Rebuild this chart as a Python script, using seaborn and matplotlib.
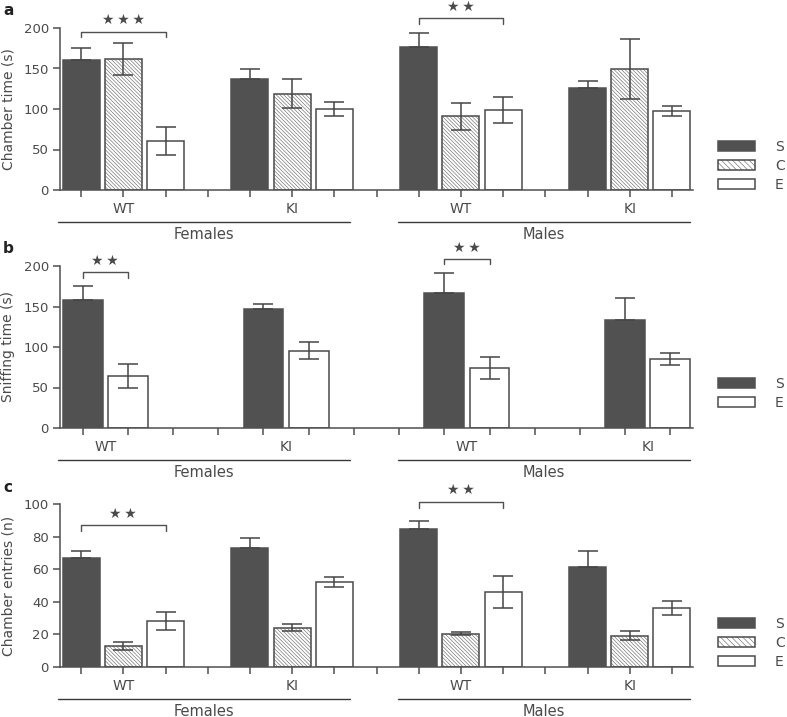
import numpy as np
import pandas as pd
import matplotlib
matplotlib.use("Agg")
import matplotlib.pyplot as plt
import matplotlib.colors as mcolors
import matplotlib.transforms as mtrans
from matplotlib.patches import Patch
import seaborn as sns

# ---------------- data ----------------
genotypes = ["WT", "KI", "WT", "KI"]
sexes = ["Females", "Males"]

# panel a: chamber time (s)
a_S = [161, 137.6, 176.6, 125.7]
a_S_err = [14.5, 12, 17.7, 8.6]
a_C = [162, 119, 90.8, 149]
a_C_err = [20, 18, 17, 37]
a_E = [60.8, 100, 99, 97.3]
a_E_err = [17, 8.5, 16, 6]

# panel b: sniffing time (s)
b_S = [157.8, 146.3, 167, 133]
b_S_err = [18, 7.4, 24, 27]
b_E = [64.3, 95.5, 73.8, 84.8]
b_E_err = [15, 10.5, 13.3, 7.6]

# panel c: chamber entries (n)
c_S = [67.1, 72.7, 84.6, 61.6]
c_S_err = [3.9, 6.4, 4.7, 9.7]
c_C = [12.9, 24.2, 20.5, 19.3]
c_C_err = [2.2, 2.4, 1.0, 3.0]
c_E = [28.1, 52, 46, 36.3]
c_E_err = [5.4, 3.2, 9.7, 4.2]

# ---------------- style ----------------
DARK = "#515151"
EDGE = "#4a4a4a"
HATCH_C = "#6e6e6e"
TXT = "#4a4a4a"
LINE = "#505050"
HATCH = "\\" * 9

sns.set_theme(style="ticks")
plt.rcParams.update({
    "font.family": ["DejaVu Sans"],
    "font.size": 10,
    "text.color": TXT,
    "axes.labelcolor": TXT,
    "xtick.color": LINE,
    "ytick.color": LINE,
    "xtick.labelcolor": TXT,
    "ytick.labelcolor": TXT,
    "axes.edgecolor": LINE,
    "axes.linewidth": 1.1,
    "hatch.linewidth": 0.45,
})

fig = plt.figure(figsize=(7.87, 7.17), dpi=100)
W, H = 787, 717


def ax_rect(top_px, bot_px, left_px=60, right_px=693):
    return [left_px / W, 1 - bot_px / H, (right_px - left_px) / W, (bot_px - top_px) / H]


palette = {"S": DARK, "C": "white", "E": "white"}


def draw_panel(ax, conds, means, errs, ylim, yticks, ylabel, sigs):
    n_slots = 12 + len(conds)
    order = [f"s{i}" for i in range(n_slots)]
    rows = []
    for g in range(4):
        for k, c in enumerate(conds):
            rows.append({"slot": f"s{g * 4 + k}", "cond": c, "value": means[c][g],
                         "err": errs[c][g]})
    df = pd.DataFrame(rows)
    sns.barplot(data=df, x="slot", y="value", hue="cond", order=order,
                hue_order=conds, palette=palette, dodge=False, width=0.88,
                errorbar=None, edgecolor=EDGE, linewidth=1.1, saturation=1,
                legend=False, ax=ax, zorder=2)
    for cont, c in zip(ax.containers, conds):
        for bar in cont:
            if c == "S":
                bar.set_edgecolor(DARK)
            if c == "C":
                bar.set_hatch(HATCH)
                bar._hatch_color = mcolors.to_rgba(HATCH_C)
    # error bars
    for _, r in df.iterrows():
        x = order.index(r["slot"])
        lo = 0 if r["cond"] == "S" else r["err"]
        ax.errorbar(x, r["value"], yerr=[[lo], [r["err"]]], fmt="none",
                    ecolor="#454545", elinewidth=1.1, capsize=7, capthick=1.1,
                    zorder=4)
    ax.set_xlim(-0.5, n_slots - 0.5)
    ax.set_ylim(*ylim)
    ax.set_yticks(yticks)
    ax.set_xticks(range(n_slots))
    ax.set_xticklabels([""] * n_slots)
    ax.set_xlabel("")
    ax.set_ylabel(ylabel, fontsize=10)
    ax.yaxis.set_label_coords(-0.071, 0.5)
    ax.tick_params(axis="both", direction="out", length=5, width=1.1)
    ax.tick_params(axis="y", labelsize=9.5, pad=3)
    sns.despine(ax=ax)

    # genotype labels
    trans = mtrans.blended_transform_factory(ax.transData, ax.transAxes)
    for g in range(4):
        cx = g * 4 + (len(conds) - 1) / 2
        ax.annotate(genotypes[g], xy=(cx, 0), xycoords=trans, xytext=(0, -14),
                    textcoords="offset points", ha="center", va="center",
                    fontsize=10, annotation_clip=False)
    # sex lines and labels
    for (x0, x1), s in zip([(-0.003, 0.458), (0.534, 0.995)], sexes):
        line = plt.Line2D([x0, x1], [0, 0],
                          transform=ax.transAxes + mtrans.ScaledTranslation(0, -22.7 / 72, fig.dpi_scale_trans),
                          color="#3a3a3a", lw=1.0, clip_on=False)
        ax.add_line(line)
        ax.annotate(s, xy=((x0 + x1) / 2, 0), xycoords="axes fraction",
                    xytext=(0, -31.7), textcoords="offset points",
                    ha="center", va="center", fontsize=10.5,
                    annotation_clip=False)
    # significance brackets
    for (x0, x1, ybar, ydrop, ystar, stars) in sigs:
        ax.plot([x0, x0, x1, x1], [ydrop, ybar, ybar, ydrop], color=LINE,
                lw=1.0, clip_on=False, zorder=5)
        ax.text((x0 + x1) / 2, ystar, stars, ha="center", va="center",
                fontsize=10, color=TXT, clip_on=False)


STAR3 = "\u2605\u2009\u2605\u2009\u2605"
STAR2 = "\u2605\u2009\u2605"

axa = fig.add_axes(ax_rect(28, 190))
draw_panel(axa, ["S", "C", "E"],
           {"S": a_S, "C": a_C, "E": a_E},
           {"S": a_S_err, "C": a_C_err, "E": a_E_err},
           (0, 200), [0, 50, 100, 150, 200], "Chamber time (s)",
           [(0, 2, 195, 189, 210, STAR3), (8, 10, 212, 205, 226, STAR2)])

axb = fig.add_axes(ax_rect(266, 428))
draw_panel(axb, ["S", "E"],
           {"S": b_S, "E": b_E},
           {"S": b_S_err, "E": b_E_err},
           (0, 200), [0, 50, 100, 150, 200], "Sniffing time (s)",
           [(0, 1, 192.6, 185, 206, STAR2), (8, 9, 209, 202, 222.6, STAR2)])

axc = fig.add_axes(ax_rect(504, 667))
draw_panel(axc, ["S", "C", "E"],
           {"S": c_S, "C": c_C, "E": c_E},
           {"S": c_S_err, "C": c_C_err, "E": c_E_err},
           (0, 100), [0, 20, 40, 60, 80, 100], "Chamber entries (n)",
           [(0, 2, 86.9, 83.2, 93.8, STAR2), (8, 10, 101.2, 97.5, 108.4, STAR2)])


# legends
def make_handles(conds):
    hs = []
    for c in conds:
        if c == "S":
            p = Patch(facecolor=DARK, edgecolor=DARK, linewidth=1.1)
        elif c == "C":
            p = Patch(facecolor="white", edgecolor=EDGE, linewidth=1.1, hatch="\\" * 6)
            p._hatch_color = mcolors.to_rgba(HATCH_C)
        else:
            p = Patch(facecolor="white", edgecolor=EDGE, linewidth=1.1)
        hs.append(p)
    return hs


for conds, yc in [(["S", "C", "E"], 166), (["S", "E"], 393.5), (["S", "C", "E"], 643)]:
    fig.legend(make_handles(conds), conds, loc="center left",
               bbox_to_anchor=(718 / W, 1 - yc / H), frameon=False,
               borderpad=0, borderaxespad=0, handlelength=2.66,
               handleheight=0.7, handletextpad=1.45, labelspacing=0.35,
               fontsize=10)

# panel letters
for lab, ybase in [("a", 15), ("b", 253), ("c", 492)]:
    fig.text(3 / W, 1 - ybase / H, lab, fontsize=11, fontweight="bold",
             color="#222222", va="baseline", ha="left")

fig.savefig("out.png", dpi=100)
